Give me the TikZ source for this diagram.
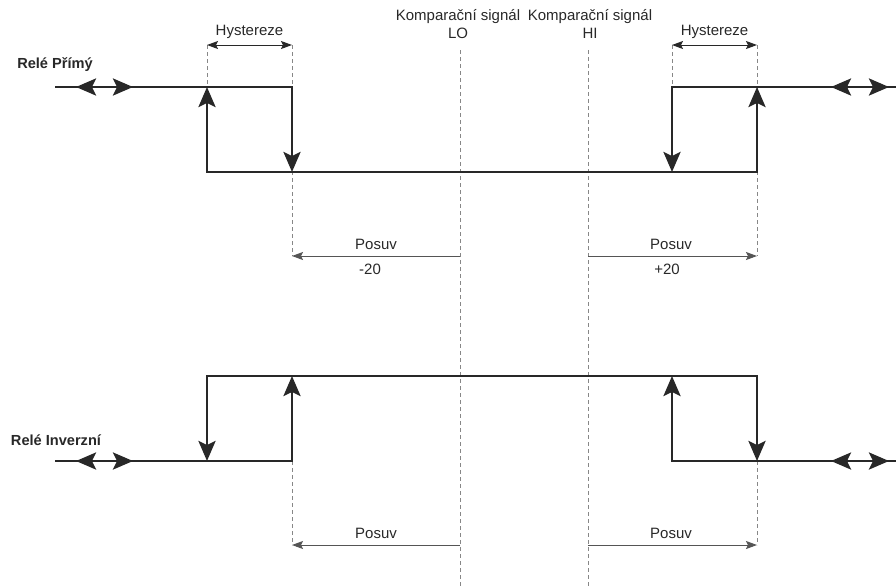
\documentclass[tikz,border=0pt]{standalone}
\usepackage{fontspec}
\setmainfont{Liberation Sans}
\usetikzlibrary{arrows.meta, positioning}
\definecolor{RelayInk}{RGB}{40,40,40}
\definecolor{GuideGray}{RGB}{135,135,135}
\definecolor{ShiftGray}{RGB}{85,85,85}

\begin{document}
\begin{tikzpicture}[x=1pt, y=-1pt,
		relay/.style={draw=RelayInk, line width=2.8pt, line cap=rect},
		tip/.style={relay, -{Stealth[length=20pt, width=17pt, inset=4pt]}},
		guide/.style={draw=GuideGray, line width=0.8pt, dash pattern=on 4pt off 3pt},
		offsetarr/.style={draw=ShiftGray, line width=0.9pt, -{Stealth[length=11pt, width=8pt, inset=2pt]}},
		hyst/.style={draw=RelayInk, line width=1pt, {Stealth[length=11pt, width=8pt, inset=2pt]}-{Stealth[length=11pt, width=8pt, inset=2pt]}},
		lbl/.style={font=\fontsize{15}{18}\selectfont, text=RelayInk, align=center, inner sep=0pt},
		head/.style={font=\fontsize{14.6}{17}\selectfont\bfseries, text=RelayInk, inner sep=0pt}]
	\path[use as bounding box] (0,0) rectangle (896,587);

	% points of the direct relay
	\coordinate (t0) at (56,87);
	\coordinate (t1) at (207,87);
	\coordinate (t2) at (292,87);
	\coordinate (t3) at (207,172);
	\coordinate (t4) at (292,172);
	\coordinate (t5) at (672,87);
	\coordinate (t6) at (757,87);
	\coordinate (t7) at (672,172);
	\coordinate (t8) at (757,172);
	\coordinate (t9) at (896,87);
	% points of the inverse relay
	\coordinate (b0) at (56,461);
	\coordinate (b1) at (207,376);
	\coordinate (b2) at (292,376);
	\coordinate (b3) at (207,461);
	\coordinate (b4) at (292,461);
	\coordinate (b5) at (672,376);
	\coordinate (b6) at (757,376);
	\coordinate (b7) at (672,461);
	\coordinate (b8) at (757,461);
	\coordinate (b9) at (896,461);
	% guide ends
	\coordinate (h1) at (207,45);
	\coordinate (h2) at (292,45);
	\coordinate (h3) at (672,45);
	\coordinate (h4) at (757,45);
	\coordinate (lo1) at (460,50);
	\coordinate (lo2) at (460,587);
	\coordinate (hi1) at (588,50);
	\coordinate (hi2) at (588,587);
	\coordinate (s0) at (460,256);
	\coordinate (s1) at (292,256);
	\coordinate (s3) at (588,256);
	\coordinate (s2) at (757,256);
	\coordinate (u0) at (460,545);
	\coordinate (u1) at (292,545);
	\coordinate (u3) at (588,545);
	\coordinate (u2) at (757,545);

	% labels
	\node[lbl] (hysL) at (249.5,32) {Hystereze};
	\node[lbl] (hysR) at (714.5,32) {Hystereze};
	\node[lbl] (lo) at (458,24) {Komparační signál\\LO};
	\node[lbl] (hi) at (590,24) {Komparační signál\\HI};
	\node[lbl] (posL) at (376,244) {Posuv};
	\node[lbl] (offL) at (370,269) {-20};
	\node[lbl] (posR) at (671,244) {Posuv};
	\node[lbl] (offR) at (667,269) {+20};
	\node[lbl] (posLb) at (376,533) {Posuv};
	\node[lbl] (posRb) at (671,533) {Posuv};
	\node[head] (rp) at (55,65) {Relé Přímý};
	\node[head] (ri) at (56,440) {Relé Inverzní};

	% dashed guides
	\draw[guide] (h1) -- (t1);
	\draw[guide] (h2) -- (s1);
	\draw[guide] (h3) -- (t5);
	\draw[guide] (h4) -- (s2);
	\draw[guide] (lo1) -- (lo2);
	\draw[guide] (hi1) -- (hi2);
	\draw[guide] (b4) -- (u1);
	\draw[guide] (b8) -- (u2);

	\draw[hyst] (h1) -- (h2);
	\draw[hyst] (h3) -- (h4);
	\draw[offsetarr] (s0) -- (s1);
	\draw[offsetarr] (s3) -- (s2);
	\draw[offsetarr] (u0) -- (u1);
	\draw[offsetarr] (u3) -- (u2);

	% direct relay
	\draw[tip] (t0) -- (t2) -- (t4);
	\draw[tip] (t8) -- (t3) -- (t1);
	\draw[tip] (t9) -- (t5) -- (t7);
	\draw[tip] (t8) -- (t6);
	\draw[tip] (104,87) -- (76,87);
	\draw[tip] (104,87) -- (133,87);
	\draw[tip] (859,87) -- (831,87);
	\draw[tip] (859,87) -- (889,87);

	% inverse relay
	\draw[tip] (b0) -- (b4) -- (b2);
	\draw[tip] (b6) -- (b1) -- (b3);
	\draw[tip] (b9) -- (b7) -- (b5);
	\draw[tip] (b6) -- (b8);
	\draw[tip] (104,461) -- (76,461);
	\draw[tip] (104,461) -- (133,461);
	\draw[tip] (859,461) -- (831,461);
	\draw[tip] (859,461) -- (889,461);
\end{tikzpicture}
\end{document}
